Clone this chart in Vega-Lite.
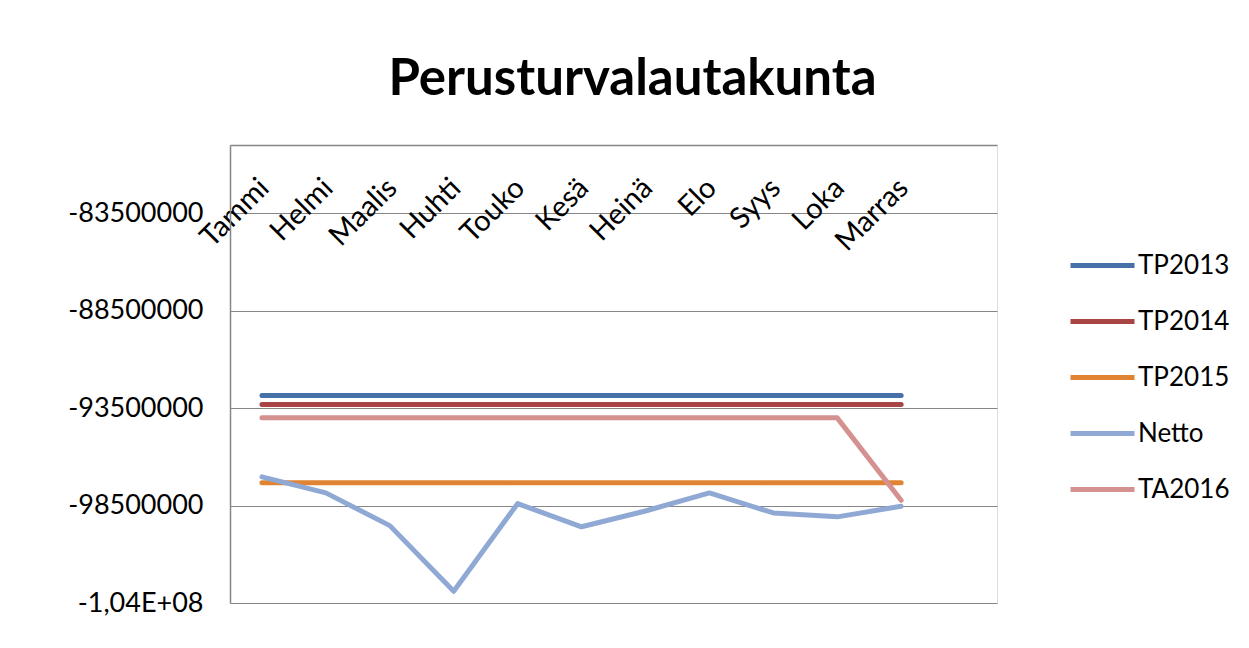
{
  "$schema": "https://vega.github.io/schema/vega-lite/v6.json",
  "width": 767,
  "height": 458,
  "autosize": {"type": "none"},
  "padding": {"left": 230, "top": 145, "right": 252, "bottom": 45},
  "background": "white",
  "title": {
    "text": "Perusturvalautakunta",
    "font": "Lato",
    "fontSize": 51,
    "fontWeight": "bold",
    "color": "#000000",
    "anchor": "middle",
    "frame": "group",
    "baseline": "alphabetic",
    "offset": -1,
    "dx": 19
  },
  "data": {
    "values": [
      {"kuukausi": "Tammi", "sarja": "TP2013", "arvo": -92850000},
      {"kuukausi": "Helmi", "sarja": "TP2013", "arvo": -92850000},
      {"kuukausi": "Maalis", "sarja": "TP2013", "arvo": -92850000},
      {"kuukausi": "Huhti", "sarja": "TP2013", "arvo": -92850000},
      {"kuukausi": "Touko", "sarja": "TP2013", "arvo": -92850000},
      {"kuukausi": "Kesä", "sarja": "TP2013", "arvo": -92850000},
      {"kuukausi": "Heinä", "sarja": "TP2013", "arvo": -92850000},
      {"kuukausi": "Elo", "sarja": "TP2013", "arvo": -92850000},
      {"kuukausi": "Syys", "sarja": "TP2013", "arvo": -92850000},
      {"kuukausi": "Loka", "sarja": "TP2013", "arvo": -92850000},
      {"kuukausi": "Marras", "sarja": "TP2013", "arvo": -92850000},
      {"kuukausi": "Tammi", "sarja": "TP2014", "arvo": -93310000},
      {"kuukausi": "Helmi", "sarja": "TP2014", "arvo": -93310000},
      {"kuukausi": "Maalis", "sarja": "TP2014", "arvo": -93310000},
      {"kuukausi": "Huhti", "sarja": "TP2014", "arvo": -93310000},
      {"kuukausi": "Touko", "sarja": "TP2014", "arvo": -93310000},
      {"kuukausi": "Kesä", "sarja": "TP2014", "arvo": -93310000},
      {"kuukausi": "Heinä", "sarja": "TP2014", "arvo": -93310000},
      {"kuukausi": "Elo", "sarja": "TP2014", "arvo": -93310000},
      {"kuukausi": "Syys", "sarja": "TP2014", "arvo": -93310000},
      {"kuukausi": "Loka", "sarja": "TP2014", "arvo": -93310000},
      {"kuukausi": "Marras", "sarja": "TP2014", "arvo": -93310000},
      {"kuukausi": "Tammi", "sarja": "TP2015", "arvo": -97330000},
      {"kuukausi": "Helmi", "sarja": "TP2015", "arvo": -97330000},
      {"kuukausi": "Maalis", "sarja": "TP2015", "arvo": -97330000},
      {"kuukausi": "Huhti", "sarja": "TP2015", "arvo": -97330000},
      {"kuukausi": "Touko", "sarja": "TP2015", "arvo": -97330000},
      {"kuukausi": "Kesä", "sarja": "TP2015", "arvo": -97330000},
      {"kuukausi": "Heinä", "sarja": "TP2015", "arvo": -97330000},
      {"kuukausi": "Elo", "sarja": "TP2015", "arvo": -97330000},
      {"kuukausi": "Syys", "sarja": "TP2015", "arvo": -97330000},
      {"kuukausi": "Loka", "sarja": "TP2015", "arvo": -97330000},
      {"kuukausi": "Marras", "sarja": "TP2015", "arvo": -97330000},
      {"kuukausi": "Tammi", "sarja": "Netto", "arvo": -97030000},
      {"kuukausi": "Helmi", "sarja": "Netto", "arvo": -97850000},
      {"kuukausi": "Maalis", "sarja": "Netto", "arvo": -99530000},
      {"kuukausi": "Huhti", "sarja": "Netto", "arvo": -102900000},
      {"kuukausi": "Touko", "sarja": "Netto", "arvo": -98400000},
      {"kuukausi": "Kesä", "sarja": "Netto", "arvo": -99590000},
      {"kuukausi": "Heinä", "sarja": "Netto", "arvo": -98780000},
      {"kuukausi": "Elo", "sarja": "Netto", "arvo": -97850000},
      {"kuukausi": "Syys", "sarja": "Netto", "arvo": -98880000},
      {"kuukausi": "Loka", "sarja": "Netto", "arvo": -99080000},
      {"kuukausi": "Marras", "sarja": "Netto", "arvo": -98540000},
      {"kuukausi": "Tammi", "sarja": "TA2016", "arvo": -94000000},
      {"kuukausi": "Helmi", "sarja": "TA2016", "arvo": -94000000},
      {"kuukausi": "Maalis", "sarja": "TA2016", "arvo": -94000000},
      {"kuukausi": "Huhti", "sarja": "TA2016", "arvo": -94000000},
      {"kuukausi": "Touko", "sarja": "TA2016", "arvo": -94000000},
      {"kuukausi": "Kesä", "sarja": "TA2016", "arvo": -94000000},
      {"kuukausi": "Heinä", "sarja": "TA2016", "arvo": -94000000},
      {"kuukausi": "Elo", "sarja": "TA2016", "arvo": -94000000},
      {"kuukausi": "Syys", "sarja": "TA2016", "arvo": -94000000},
      {"kuukausi": "Loka", "sarja": "TA2016", "arvo": -94000000},
      {"kuukausi": "Marras", "sarja": "TA2016", "arvo": -98230000}
    ]
  },
  "mark": {"type": "line", "strokeWidth": 5, "strokeCap": "round", "strokeJoin": "round"},
  "encoding": {
    "x": {
      "field": "kuukausi",
      "type": "nominal",
      "sort": null,
      "scale": {
        "type": "point",
        "domain": ["Tammi", "Helmi", "Maalis", "Huhti", "Touko", "Kesä", "Heinä", "Elo", "Syys", "Loka", "Marras", "Joulu"],
        "padding": 0.5
      },
      "axis": {
        "orient": "top",
        "title": null,
        "labelAngle": -45,
        "labelAlign": "right",
        "labelBaseline": "top",
        "labelPadding": -28,
        "labelOffset": -8,
        "ticks": false,
        "grid": false,
        "domainColor": "#868686",
        "domainWidth": 1.5,
        "labelFont": "Lato",
        "labelFontSize": 29,
        "labelColor": "#000000",
        "labelOverlap": false,
        "labelExpr": "datum.value == 'Joulu' ? '' : datum.value"
      }
    },
    "y": {
      "field": "arvo",
      "type": "quantitative",
      "scale": {"domain": [-103500000, -80000000], "nice": false, "zero": false},
      "axis": {
        "values": [-103500000, -98500000, -93500000, -88500000, -83500000],
        "title": null,
        "ticks": false,
        "grid": true,
        "gridColor": "#868686",
        "gridWidth": 1.2,
        "domainColor": "#868686",
        "domainWidth": 1.5,
        "labelPadding": 27,
        "labelFont": "Lato",
        "labelFontSize": 27,
        "labelColor": "#000000",
        "labelExpr": "datum.value < -100000000 ? '-1,04E+08' : '-' + format(-datum.value, 'd')"
      }
    },
    "color": {
      "field": "sarja",
      "type": "nominal",
      "scale": {
        "domain": ["TP2013", "TP2014", "TP2015", "Netto", "TA2016"],
        "range": ["#4570a8", "#a84443", "#e08434", "#8fa9d4", "#d49190"]
      },
      "legend": {
        "title": null,
        "orient": "none",
        "legendX": 838,
        "legendY": 86,
        "symbolType": "stroke",
        "symbolSize": 4096,
        "symbolStrokeWidth": 5,
        "rowPadding": 8,
        "labelOffset": 1,
        "labelFont": "Lato",
        "labelFontSize": 26,
        "labelColor": "#000000",
        "padding": 0
      }
    }
  }
}
